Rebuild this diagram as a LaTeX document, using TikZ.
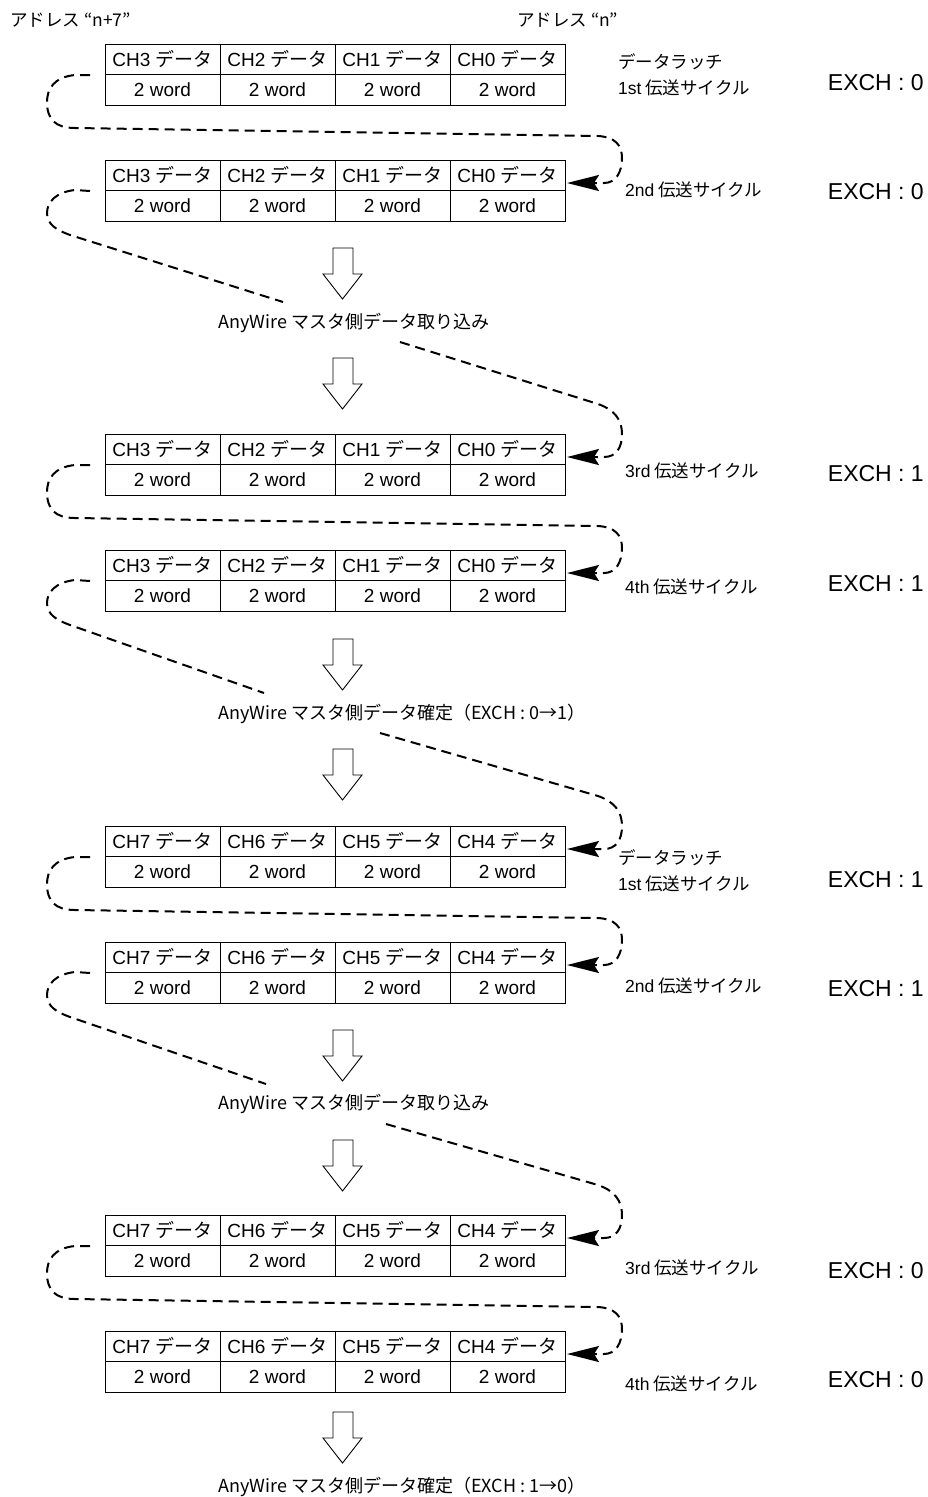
\documentclass[tikz,border=0pt]{standalone}
\usepackage{fontspec}
\setmainfont{Liberation Sans}
\newfontfamily\jp{Noto Sans CJK JP}
\usetikzlibrary{arrows.meta}
\tikzset{
 cell/.style={draw, line width=0.9pt, minimum width=115pt, minimum height=30.5pt, inner sep=0pt, font=\fontsize{19}{19}\selectfont},
 flow/.style={line width=2pt, dash pattern=on 10pt off 6pt},
 tipL/.style={-{Stealth[length=32pt,width=16pt,inset=5pt]}},
 lab/.style={anchor=west, font=\jp\fontsize{17.5}{17.5}\selectfont, inner sep=0pt},
 exch/.style={anchor=east, font=\fontsize{23}{23}\selectfont, inner sep=0pt},
 note/.style={anchor=west, font=\jp\fontsize{18}{18}\selectfont, inner sep=0pt},
 hollowarr/.style={draw, line width=0.9pt, fill=white},
}
\newcommand\lat[1]{{\normalfont\fontsize{17.5}{17.5}\selectfont #1}}
% block: name, top, ch a, b, c, d
\newcommand\dblock[6]{%
 \node[cell] (#1a) at (162.5,#2+15.25) {CH#3 {\jp データ}};
 \node[cell] (#1b) at (277.5,#2+15.25) {CH#4 {\jp データ}};
 \node[cell] (#1c) at (392.5,#2+15.25) {CH#5 {\jp データ}};
 \node[cell] (#1d) at (507.5,#2+15.25) {CH#6 {\jp データ}};
 \node[cell] (#1e) at (162.5,#2+45.75) {2 word};
 \node[cell] (#1f) at (277.5,#2+45.75) {2 word};
 \node[cell] (#1g) at (392.5,#2+45.75) {2 word};
 \node[cell] (#1h) at (507.5,#2+45.75) {2 word};
 \coordinate (#1out) at (90,#2+31);
 \coordinate (#1in) at (567,#2+23);
}
\newcommand\hollowdown[2]{%
 \coordinate (#1) at (342.5,#2);
 \draw[hollowarr] (333,#2) -- (353,#2) -- (353,#2+26) -- (362,#2+26) -- (342.5,#2+51) -- (323,#2+26) -- (333,#2+26) -- cycle;
}
% loop from upper block (top #3) to lower block
\newcommand\loopA[3]{%
 \draw[flow,tipL] (#1out) -- (75,#3+31) .. controls (54,#3+33) and (47,#3+45) .. (47,#3+58)
   .. controls (47,#3+75) and (55,#3+84) .. (75,#3+84) -- (598,#3+92)
   .. controls (615,#3+93) and (622,#3+101) .. (622,#3+114)
   .. controls (622,#3+128) and (616,#3+139) .. (604,#3+139) -- (#2in);
}
% from upper block (top #3) to text end coordinate #2
\newcommand\loopB[3]{%
 \draw[flow] (#1out) -- (75,#3+30) .. controls (56,#3+32) and (47,#3+42) .. (47,#3+53)
   .. controls (47,#3+64) and (56,#3+70) .. (70,#3+75) -- (#2);
}
% from text start coordinate #1 to lower block #2 (lower top #3)
\newcommand\loopC[3]{%
 \draw[flow,tipL] (#1) -- (598,#3-30)
   .. controls (615,#3-24) and (622,#3-14) .. (622,#3)
   .. controls (622,#3+14) and (616,#3+23) .. (604,#3+23) -- (#2in);
}
\begin{document}
\begin{tikzpicture}[x=1pt,y=-1pt]
\useasboundingbox[fill=white] (0,0) rectangle (927,1497);

\node[lab] (adr7) at (10,20) {アドレス “n+7”};
\node[lab] (adr0) at (517,20) {アドレス “n”};

\dblock{b1}{44}{3}{2}{1}{0}
\dblock{b2}{160}{3}{2}{1}{0}
\dblock{b3}{434}{3}{2}{1}{0}
\dblock{b4}{550}{3}{2}{1}{0}
\dblock{b5}{826}{7}{6}{5}{4}
\dblock{b6}{942}{7}{6}{5}{4}
\dblock{b7}{1215}{7}{6}{5}{4}
\dblock{b8}{1331}{7}{6}{5}{4}

% right labels
\node[lab] (l1a) at (618,62) {データラッチ};
\node[lab] (l1b) at (618,88) {\lat{1st} 伝送サイクル};
\node[lab] (l2) at (625,190) {\lat{2nd} 伝送サイクル};
\node[lab] (l3) at (625,471) {\lat{3rd} 伝送サイクル};
\node[lab] (l4) at (625,587) {\lat{4th} 伝送サイクル};
\node[lab] (l5a) at (618,858) {データラッチ};
\node[lab] (l5b) at (618,884) {\lat{1st} 伝送サイクル};
\node[lab] (l6) at (625,986) {\lat{2nd} 伝送サイクル};
\node[lab] (l7) at (625,1268) {\lat{3rd} 伝送サイクル};
\node[lab] (l8) at (625,1384) {\lat{4th} 伝送サイクル};

\node[exch] (e1) at (924,83) {EXCH : 0};
\node[exch] (e2) at (924,192) {EXCH : 0};
\node[exch] (e3) at (924,474) {EXCH : 1};
\node[exch] (e4) at (924,584) {EXCH : 1};
\node[exch] (e5) at (924,880) {EXCH : 1};
\node[exch] (e6) at (924,989) {EXCH : 1};
\node[exch] (e7) at (924,1271) {EXCH : 0};
\node[exch] (e8) at (924,1380) {EXCH : 0};

% hollow arrows
\hollowdown{h1}{248}
\hollowdown{h2}{358}
\hollowdown{h3}{639}
\hollowdown{h4}{749}
\hollowdown{h5}{1030}
\hollowdown{h6}{1140}
\hollowdown{h7}{1412}

% notes
\node[note] (t1) at (218,323) {AnyWire マスタ側データ取り込み};
\node[note] (t2) at (218,714) {AnyWire マスタ側データ確定（EXCH : 0→1）};
\node[note] (t3) at (218,1104) {AnyWire マスタ側データ取り込み};
\node[note] (t4) at (218,1487) {AnyWire マスタ側データ確定（EXCH : 1→0）};

\coordinate (t1in) at (283,302);
\coordinate (t1out) at (400,342);
\coordinate (t2in) at (264,693);
\coordinate (t2out) at (380,733);
\coordinate (t3in) at (266,1084);
\coordinate (t3out) at (386,1124);

% dashed connectors
\loopA{b1}{b2}{44}
\loopB{b2}{t1in}{160}
\loopC{t1out}{b3}{434}
\loopA{b3}{b4}{434}
\loopB{b4}{t2in}{550}
\loopC{t2out}{b5}{826}
\loopA{b5}{b6}{826}
\loopB{b6}{t3in}{942}
\loopC{t3out}{b7}{1215}
\loopA{b7}{b8}{1215}
\end{tikzpicture}
\end{document}
